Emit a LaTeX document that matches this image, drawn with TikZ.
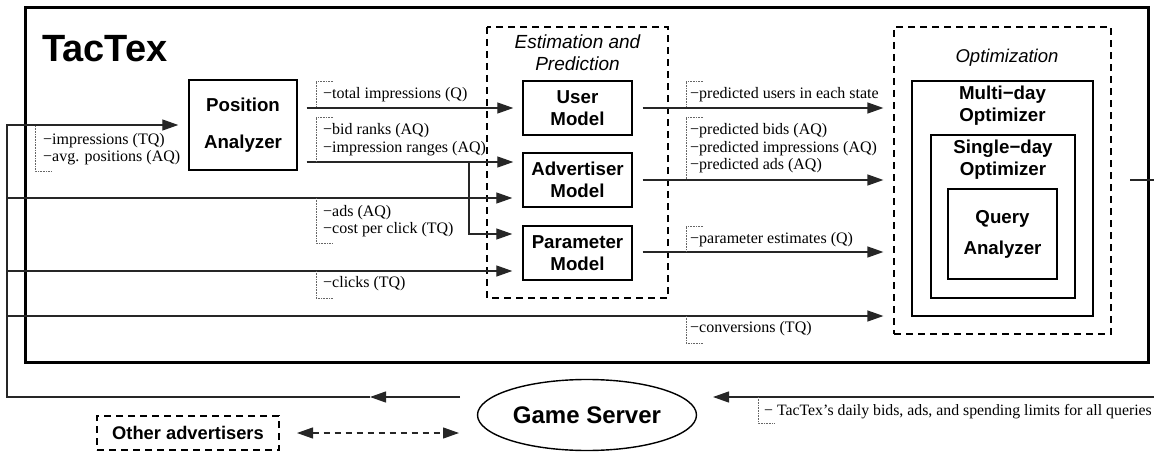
\documentclass[tikz,border=0pt]{standalone}
\usepackage{fontspec}
\setmainfont{Liberation Serif}
\setsansfont{Liberation Sans}
\usetikzlibrary{arrows.meta,shapes.geometric,calc}
\begin{document}
\begin{tikzpicture}[x=1pt,y=-1pt,
  arr/.style={-{Triangle[length=16pt,width=11pt]}, line width=1.25pt, black!85},
  conn/.style={line width=1.25pt, black!85},
  boxn/.style={draw, line width=1.4pt, align=center, inner sep=0pt, minimum width=109pt, minimum height=54pt,
    font=\sffamily\bfseries\fontsize{18.7}{22}\selectfont},
  frame/.style={draw, line width=1.4pt, inner sep=0pt},
  dbox/.style={draw, dash pattern=on 7pt off 5pt, line width=1.2pt},
  brk/.style={densely dotted, line width=0.6pt, black!60},
  lbl/.style={anchor=west, inner sep=0pt, align=left, font=\fontsize{16}{17.5}\selectfont},
  ttl/.style={inner sep=0pt, align=center, font=\sffamily\bfseries\fontsize{18.7}{22}\selectfont},
]
\useasboundingbox (0,0) rectangle (1154,452);

% outer TacTex frame
\draw[line width=3pt] (25,8) rectangle (1148,362);
\node[anchor=west, inner sep=0pt, font=\sffamily\bfseries\fontsize{38}{40}\selectfont] (title) at (42,49) {TacTex};

% Position analyzer
\node[boxn, minimum width=108pt, minimum height=90pt, font=\sffamily\bfseries\fontsize{18.7}{37}\selectfont] (pa) at (243,125) {Position\\Analyzer};

% Estimation and prediction
\draw[dbox] (487,27) rectangle (668,298);
\node[inner sep=0pt, align=center, font=\sffamily\itshape\fontsize{19}{22}\selectfont] (est) at (577.5,53) {Estimation and\\Prediction};
\node[boxn] (um) at (577.5,108) {User\\Model};
\node[boxn] (am) at (577.5,180) {Advertiser\\Model};
\node[boxn] (pm) at (577.5,253) {Parameter\\Model};

% Optimization
\node[dbox, inner sep=0pt, minimum width=217pt, minimum height=307pt] (opt) at (1002.5,180.5) {};
\node[inner sep=0pt, font=\sffamily\itshape\fontsize{18.5}{22}\selectfont] (optt) at (1007,58) {Optimization};
\node[frame, minimum width=181pt, minimum height=235pt] (md) at (1002.5,198.5) {};
\node[ttl, anchor=north] (mdt) at (1002.5,86) {Multi−day\\Optimizer};
\node[frame, minimum width=144pt, minimum height=163pt] (sd) at (1003,216.5) {};
\node[ttl, anchor=north] (sdt) at (1003,140) {Single−day\\Optimizer};
\node[boxn, minimum width=109pt, minimum height=90pt, font=\sffamily\bfseries\fontsize{18.7}{31}\selectfont] (qa) at (1002.5,234) {Query\\Analyzer};

% Game server and other advertisers
\node[draw, ellipse, line width=1.4pt, minimum width=219pt, minimum height=71pt, inner sep=0pt,
  font=\sffamily\bfseries\fontsize{24}{26}\selectfont] (gs) at (587,415) {Game Server};
\node[dbox, inner sep=0pt, minimum width=182pt, minimum height=34pt,
  font=\sffamily\bfseries\fontsize{18.3}{22}\selectfont] (oa) at (188,433) {Other advertisers};

% coordinates
\coordinate (gsL) at (460,397);
\coordinate (midL) at (370,397);
\coordinate (cL) at (7,397);
\coordinate (cT) at (7,125);
\coordinate (br) at (469,162);
\coordinate (exitR) at (1130,180);
\coordinate (edgeR) at (1154,180);
\coordinate (retR) at (1154,397);
\coordinate (retT) at (713,397);

% connectors from game server
\draw[arr] (gsL) -- (midL);
\draw[arr, shorten >=10pt] (midL) -- (cL) -- (cT) -- (pa.west);
\draw[arr, shorten >=10pt] (7,198) -- (am.west |- 7,198);
\draw[arr, shorten >=10pt] (7,271) -- (pm.west |- 7,271);
\draw[arr, shorten >=10pt] (7,316) -- (opt.west |- 7,316);

% position analyzer outputs
\draw[arr, shorten <=9pt, shorten >=9pt] (pa.east |- um.west) -- (um.west);
\draw[arr, shorten <=9pt, shorten >=9pt] (pa.east |- br) -- (am.west |- br);
\draw[arr, shorten >=10pt] (br) -- (469,234) -- (pm.west |- 469,234);

% model outputs
\draw[arr, shorten <=10pt, shorten >=10pt] (um.east) -- (opt.west |- um.east);
\draw[arr, shorten <=10pt, shorten >=10pt] (am.east) -- (opt.west |- am.east);
\draw[arr, shorten <=10pt, shorten >=10pt] (pm.east |- 0,252) -- (opt.west |- 0,252);

% output to game server
\draw[conn] (exitR) -- (edgeR);
\draw[arr] (retR) -- (retT);
\draw[{Triangle[length=16pt,width=11pt]}-{Triangle[length=16pt,width=11pt]}, dash pattern=on 6pt off 5pt, line width=1.2pt, black!85] (297,433) -- (459,433);

% dotted brackets and labels
\draw[brk] (35,126) -- (35,171) -- (52,171);
\node[lbl] (l1) at (43,149) {−impressions (TQ)\\−avg. positions (AQ)};
\draw[brk] (333,81) -- (316,81) -- (316,107);
\node[lbl] (l2) at (323,95) {−total impressions (Q)};
\draw[brk] (333,117) -- (316,117) -- (316,162);
\node[lbl] (l3) at (323,139.5) {−bid ranks (AQ)\\−impression ranges (AQ)};
\draw[brk] (316,198) -- (316,243) -- (333,243);
\node[lbl] (l4) at (323,221) {−ads (AQ)\\−cost per click (TQ)};
\draw[brk] (316,271) -- (316,298) -- (333,298);
\node[lbl] (l5) at (323,284) {−clicks (TQ)};
\draw[brk] (703,81) -- (686,81) -- (686,107);
\node[lbl] (l6) at (690,95) {−predicted users in each state};
\draw[brk] (703,117) -- (686,117) -- (686,180);
\node[lbl] (l7) at (690,148.5) {−predicted bids (AQ)\\−predicted impressions (AQ)\\−predicted ads (AQ)};
\draw[brk] (703,226) -- (686,226) -- (686,252);
\node[lbl] (l8) at (690,240) {−parameter estimates (Q)};
\draw[brk] (686,316) -- (686,343) -- (703,343);
\node[lbl] (l9) at (690,329) {−conversions (TQ)};
\draw[brk] (758,397) -- (758,423) -- (775,423);
\node[lbl, font=\fontsize{15.8}{17.5}\selectfont] (l10) at (764,412) {− TacTex’s daily bids, ads, and spending limits for all queries};
\end{tikzpicture}
\end{document}
